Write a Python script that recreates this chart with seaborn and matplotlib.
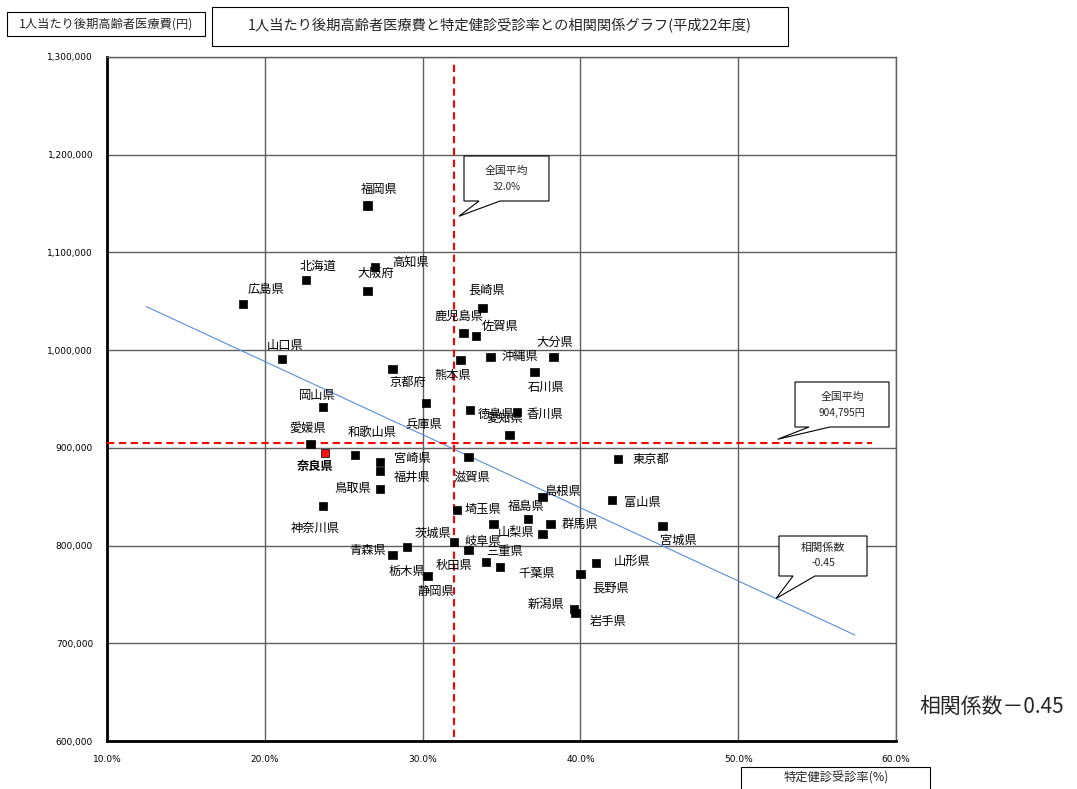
import numpy as np
import pandas as pd
import matplotlib
matplotlib.use("Agg")
import matplotlib.pyplot as plt
import seaborn as sns
from matplotlib.patches import Rectangle, Polygon

# 都道府県別：特定健診受診率(%) と 1人当たり後期高齢者医療費(円)
prefectures = [
    "福岡県", "北海道", "高知県", "大阪府", "広島県", "長崎県", "鹿児島県", "佐賀県",
    "山口県", "熊本県", "沖縄県", "大分県", "石川県", "京都府", "岡山県", "兵庫県",
    "徳島県", "香川県", "愛知県", "愛媛県", "奈良県", "和歌山県", "宮崎県", "福井県",
    "鳥取県", "神奈川県", "滋賀県", "東京都", "富山県", "宮城県", "島根県", "福島県",
    "群馬県", "山梨県", "埼玉県", "秋田県", "茨城県", "岐阜県", "三重県", "千葉県",
    "青森県", "栃木県", "静岡県", "山形県", "長野県", "新潟県", "岩手県",
]
checkup_rate = [
    26.5, 22.6, 27.0, 26.5, 18.6, 33.8, 32.6, 33.4,
    21.1, 32.4, 34.3, 38.3, 37.1, 28.1, 23.7, 30.2,
    33.0, 36.0, 35.5, 22.9, 23.8, 25.7, 27.3, 27.3,
    27.3, 23.7, 32.9, 42.4, 42.0, 45.2, 37.6, 36.7,
    38.1, 37.6, 32.2, 34.5, 32.0, 32.9, 34.0, 34.9,
    28.1, 29.0, 30.3, 41.0, 40.0, 39.6, 39.7,
]
medical_cost = [
    1148000, 1071800, 1085100, 1060500, 1047200, 1043100, 1017500, 1014400,
    990900, 989900, 993000, 993000, 977600, 980700, 941800, 945900,
    938700, 936700, 913100, 903900, 894700, 892600, 885500, 876300,
    857800, 840500, 890600, 888500, 846600, 820000, 849700, 827100,
    822000, 811800, 836400, 822000, 803600, 795400, 783100, 778000,
    790300, 798500, 768800, 782100, 770900, 735000, 730900,
]
highlight_pref = "奈良県"

national_avg_rate = 32.0
national_avg_cost = 904795
corr_coef = -0.45

x_ticks = [10, 20, 30, 40, 50, 60]
y_ticks = [600000, 700000, 800000, 900000, 1000000, 1100000, 1200000, 1300000]

title_text = "1人当たり後期高齢者医療費と特定健診受診率との相関関係グラフ(平成22年度)"
y_title = "1人当たり後期高齢者医療費(円)"
x_title = "特定健診受診率(%)"

# ラベル位置（マーカー中心からのずれ, px：右・下が正）
label_offsets = {
    "福岡県": (12, -16), "北海道": (12, -14), "高知県": (35, -5), "大阪府": (8, -18),
    "広島県": (23, -15), "長崎県": (4, -18), "鹿児島県": (-5, -17), "佐賀県": (24, -10),
    "山口県": (3, -14), "熊本県": (-8, 15), "沖縄県": (29, 0), "大分県": (1, -15),
    "石川県": (11, 15), "京都府": (15, 13), "岡山県": (-6, -12), "兵庫県": (-2, 21),
    "徳島県": (26, 4), "香川県": (28, 2), "愛知県": (-5, -17), "愛媛県": (-3, -16),
    "奈良県": (-10, 13), "和歌山県": (17, -23), "宮崎県": (32, -4), "福井県": (32, 6),
    "鳥取県": (-27, -1), "神奈川県": (-8, 22), "滋賀県": (4, 20), "東京都": (33, 0),
    "富山県": (30, 2), "宮城県": (16, 14), "島根県": (21, -6), "福島県": (-2, -13),
    "群馬県": (30, 0), "山梨県": (-26, -2), "埼玉県": (26, -1), "秋田県": (-40, 41),
    "茨城県": (-21, -9), "岐阜県": (14, -9), "三重県": (19, -11), "千葉県": (37, 6),
    "青森県": (-25, -5), "栃木県": (0, 24), "静岡県": (9, 15), "山形県": (36, -2),
    "長野県": (30, 14), "新潟県": (-28, -5), "岩手県": (32, 8),
}

df = pd.DataFrame({"pref": prefectures, "rate": checkup_rate, "cost": medical_cost})
df["focus"] = df["pref"] == highlight_pref

sns.set_theme(style="white")
plt.rcParams["font.family"] = ["Noto Sans CJK JP", "DejaVu Sans"]

W, H, DPI = 1077, 789, 100
fig = plt.figure(figsize=(W / DPI, H / DPI), dpi=DPI)
fig.patch.set_facecolor("white")
ax = fig.add_axes([107 / W, 48 / H, 789 / W, 684 / H])


def fpx(x, y):
    """figure pixel (top-left origin) -> figure fraction"""
    return (x / W, 1 - y / H)


ax.set_xlim(10, 60)
ax.set_ylim(600000, 1300000)
ax.set_xticks(x_ticks)
ax.set_yticks(y_ticks)
ax.set_xticklabels([f"{v:.1f}%" for v in x_ticks], fontsize=6.5, family="DejaVu Sans")
ax.set_yticklabels([f"{v:,}" for v in y_ticks], fontsize=6.5, family="DejaVu Sans")
ax.tick_params(axis="both", length=0, colors="black")
ax.tick_params(axis="y", pad=10)
ax.tick_params(axis="x", pad=10)

ax.grid(True, color="#5f5f5f", linewidth=1.0)
ax.set_axisbelow(True)
for side in ["top", "right"]:
    ax.spines[side].set_color("#5f5f5f")
    ax.spines[side].set_linewidth(1.0)
for side in ["left", "bottom"]:
    ax.spines[side].set_color("black")
    ax.spines[side].set_linewidth(2.0)

# 回帰直線（最小二乗）
slope, intercept = np.polyfit(df["rate"], df["cost"], 1)
fit_x = np.array([12.5, 57.4])
sns.lineplot(x=fit_x, y=slope * fit_x + intercept, ax=ax, color="#5b8ed8",
             linewidth=0.8, zorder=2)

# 全国平均線
ax.plot([national_avg_rate, national_avg_rate], [604000, 1297000], color="#ff0000",
        linewidth=1.5, dashes=(3.5, 2.2), zorder=3)
ax.plot([10, 58.5], [national_avg_cost, national_avg_cost], color="#ff0000",
        linewidth=1.5, dashes=(3.5, 2.2), zorder=3)

# 散布図
sns.scatterplot(data=df, x="rate", y="cost", hue="focus",
                palette={False: "black", True: "#ff1010"}, marker="s", s=36,
                edgecolor="black", linewidth=0.5, legend=False, ax=ax, zorder=4)
ax.set_xlabel("")
ax.set_ylabel("")

k = 72 / DPI
for name, rx, cy in zip(df["pref"], df["rate"], df["cost"]):
    dx, dy = label_offsets[name]
    ax.annotate(name, xy=(rx, cy), xytext=(dx * k, -dy * k), textcoords="offset points",
                ha="center", va="center", fontsize=8.8,
                fontweight="bold" if name == highlight_pref else "normal",
                color="black", zorder=5)


# 吹き出し（矩形＋しっぽ）
def callout(box, tail, tip_data, lines, line_y, sizes):
    x0, y0, x1, y1 = box
    tx, ty = ax.transData.transform(tip_data)
    tip = (tx / W, ty / H)
    pts = [fpx(x0, y0), fpx(x1, y0), fpx(x1, y1), fpx(tail[1], y1), tip,
           fpx(tail[0], y1), fpx(x0, y1)]
    fig.add_artist(Polygon(pts, closed=True, transform=fig.transFigure, fc="white",
                           ec="black", lw=0.8, zorder=6))
    cx = (x0 + x1) / 2
    for txt, yy, fs in zip(lines, line_y, sizes):
        fig.text(*fpx(cx, yy), txt, ha="center", va="center", fontsize=fs, zorder=7)


callout((464, 156, 549, 201), (479, 500), (national_avg_rate + 0.3, 1137000),
        ["全国平均", f"{national_avg_rate:.1f}%"], [171, 187], [7.8, 7])
callout((795, 382, 889, 427), (809, 830), (52.5, national_avg_cost + 4000),
        ["全国平均", f"{national_avg_cost:,}円"], [397, 413], [7.8, 7.3])
tip_x = 52.4
callout((779, 536, 867, 576), (793, 815), (tip_x, slope * tip_x + intercept),
        ["相関係数", f"{corr_coef:.2f}"], [548, 563], [8, 7.5])

# 見出し
fig.add_artist(Rectangle(fpx(7, 36), 198 / W, 24 / H, transform=fig.transFigure,
                         fc="white", ec="black", lw=0.8))
fig.text(*fpx(106, 24), y_title, fontsize=8.8, ha="center", va="center")

fig.add_artist(Rectangle(fpx(212, 46), 576 / W, 39 / H, transform=fig.transFigure,
                         fc="white", ec="black", lw=0.8))
fig.text(*fpx(500, 26), title_text, fontsize=10.3, ha="center", va="center")

fig.add_artist(Rectangle(fpx(741, 800), 189 / W, 33 / H, transform=fig.transFigure,
                         fc="white", ec="black", lw=0.8, clip_on=False))
fig.text(*fpx(836, 778), x_title, fontsize=8.8, ha="center", va="center")

fig.text(*fpx(992, 707), f"相関係数－{abs(corr_coef):.2f}", fontsize=15,
         ha="center", va="center")

fig.savefig("out.png", dpi=DPI)
